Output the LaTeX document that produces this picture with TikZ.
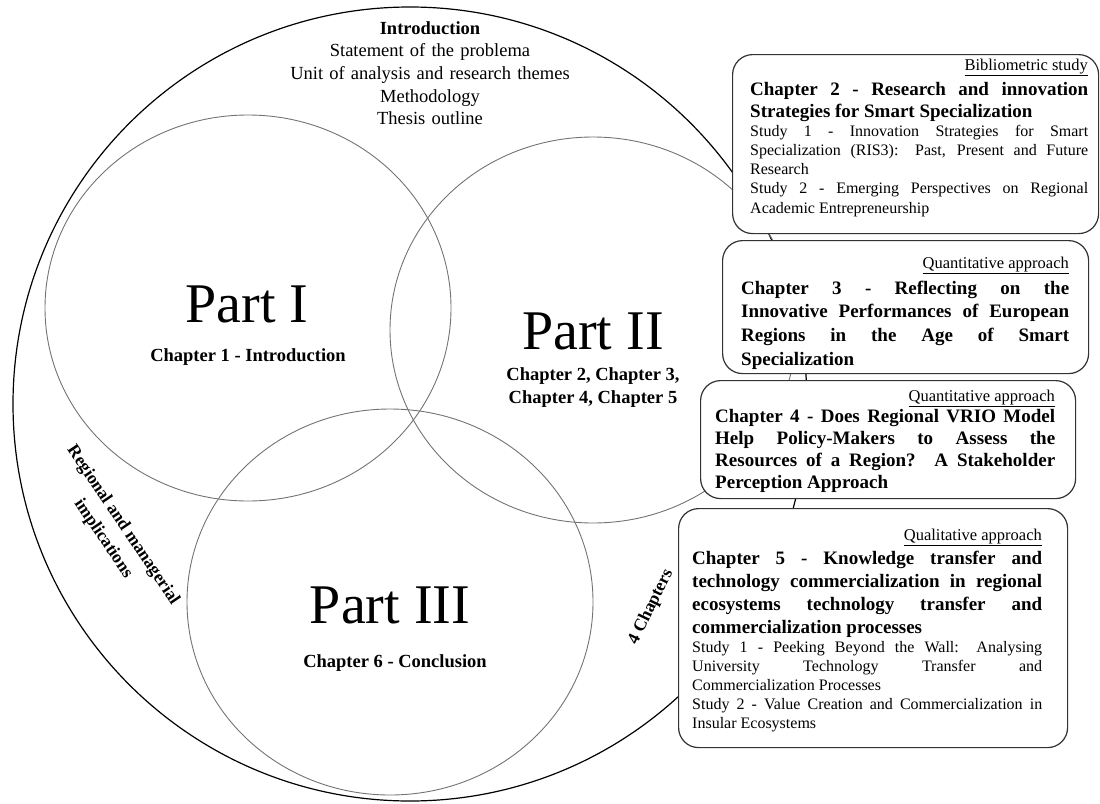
\documentclass[tikz,border=0pt]{standalone}
\usepackage{fontspec}
\setmainfont{Liberation Serif}
% font size in px-sized points, with baseline skip
\newcommand\fs[2]{\fontsize{#1}{#2}\selectfont}
% a justified line stretched to the full text width
\newcommand\J[1]{\makebox[\linewidth][s]{#1}}
\begin{document}
\begin{tikzpicture}[x=1pt,y=-1pt,
  outerring/.style={draw=black,line width=1.2pt},
  partring/.style={draw=black!55,line width=0.9pt},
  chbox/.style={draw=black!80,line width=1.2pt,fill=white,rounded corners=20pt,
    inner sep=0pt,anchor=north west},
  blk/.style={inner sep=0pt,anchor=base west,align=justify},
  tag/.style={inner sep=0pt,anchor=base east,font=\fs{16.5}{19}},
  partname/.style={inner sep=0pt,font=\fs{56}{60}},
  partsub/.style={inner sep=0pt,font=\fs{18.5}{23}\bfseries,align=center},
  boldtxt/.style={font=\fs{19}{#1}\bfseries},
  regtxt/.style={font=\fs{16}{#1}}
]
\useasboundingbox (0,0) rectangle (1100,803);

% outer ring and the three parts
\draw[outerring] (410,404) circle [radius=397];
\draw[partring] (248,308) ellipse [x radius=203, y radius=193];
\draw[partring] (593,330) ellipse [x radius=203, y radius=193];
\draw[partring] (390,602) ellipse [x radius=203, y radius=193];

% introduction list at the top of the ring
\node[inner sep=0pt,anchor=base,text width=400,align=center,font=\fs{18.5}{22.7}]
  (intro) at (430,34) {{\bfseries Introduction}\\
  Statement of the problema\\
  Unit of analysis and research themes\\
  Methodology\\
  Thesis outline};

% part labels
\node[partname] (p1) at (247,304) {Part I};
\node[partsub] (p1s) at (248,357) {Chapter 1 - Introduction};
\node[partname] (p2) at (593,331) {Part II};
\node[partsub] (p2s) at (593,388) {Chapter 2, Chapter 3,\\Chapter 4, Chapter 5};
\node[partname] (p3) at (390,605) {Part III};
\node[partsub] (p3s) at (395,663) {Chapter 6 - Conclusion};

% labels along the ring
\node[partsub,font=\fs{17.5}{24}\bfseries,rotate=-56] (impl) at (113,532)
  {Regional and managerial\\implications};
\node[partsub,font=\fs{17.5}{21}\bfseries,rotate=64] (four) at (651,607) {4 Chapters};

% chapter boxes
\node[chbox,minimum width=366,minimum height=179] (b1) at (732,54) {};
\node[chbox,minimum width=366,minimum height=133] (b2) at (722,240) {};
\node[chbox,minimum width=375,minimum height=118] (b3) at (700,380) {};
\node[chbox,minimum width=389,minimum height=239] (b4) at (678,508) {};

% box 1
\node[tag] (b1tag) at (1088,70) {\underline{Bibliometric study}};
\node[blk,text width=338,boldtxt=22.5] (b1head) at (750,95)
  {\J{Chapter 2 - Research and innovation}\\
   Strategies for Smart Specialization};
\node[blk,text width=338,regtxt=19.3] (b1body) at (750,136)
  {\J{Study 1 - Innovation Strategies for Smart}\\
   \J{Specialization (RIS3): Past, Present and Future}\\
   Research\\
   \J{Study 2 - Emerging Perspectives on Regional}\\
   Academic Entrepreneurship};

% box 2
\node[tag] (b2tag) at (1069,268) {\underline{Quantitative approach}};
\node[blk,text width=328,boldtxt=23.7] (b2head) at (741,294)
  {\J{Chapter 3 - Reflecting on the}\\
   \J{Innovative Performances of European}\\
   \J{Regions in the Age of Smart}\\
   Specialization};

% box 3
\node[tag] (b3tag) at (1055,401) {\underline{Quantitative approach}};
\node[blk,text width=340,boldtxt=22.3] (b3head) at (715,422)
  {\J{Chapter 4 - Does Regional VRIO Model}\\
   \J{Help Policy-Makers to Assess the}\\
   \J{Resources of a Region? A Stakeholder}\\
   Perception Approach};

% box 4
\node[tag] (b4tag) at (1042,540) {\underline{Qualitative approach}};
\node[blk,text width=350,boldtxt=23] (b4head) at (692,564)
  {\J{Chapter 5 - Knowledge transfer and}\\
   \J{technology commercialization in regional}\\
   \J{ecosystems technology transfer and}\\
   commercialization processes};
\node[blk,text width=350,regtxt=19] (b4body) at (692,652)
  {\J{Study 1 - Peeking Beyond the Wall: Analysing}\\
   \J{University Technology Transfer and}\\
   Commercialization Processes\\
   \J{Study 2 - Value Creation and Commercialization in}\\
   Insular Ecosystems};
\end{tikzpicture}
\end{document}
